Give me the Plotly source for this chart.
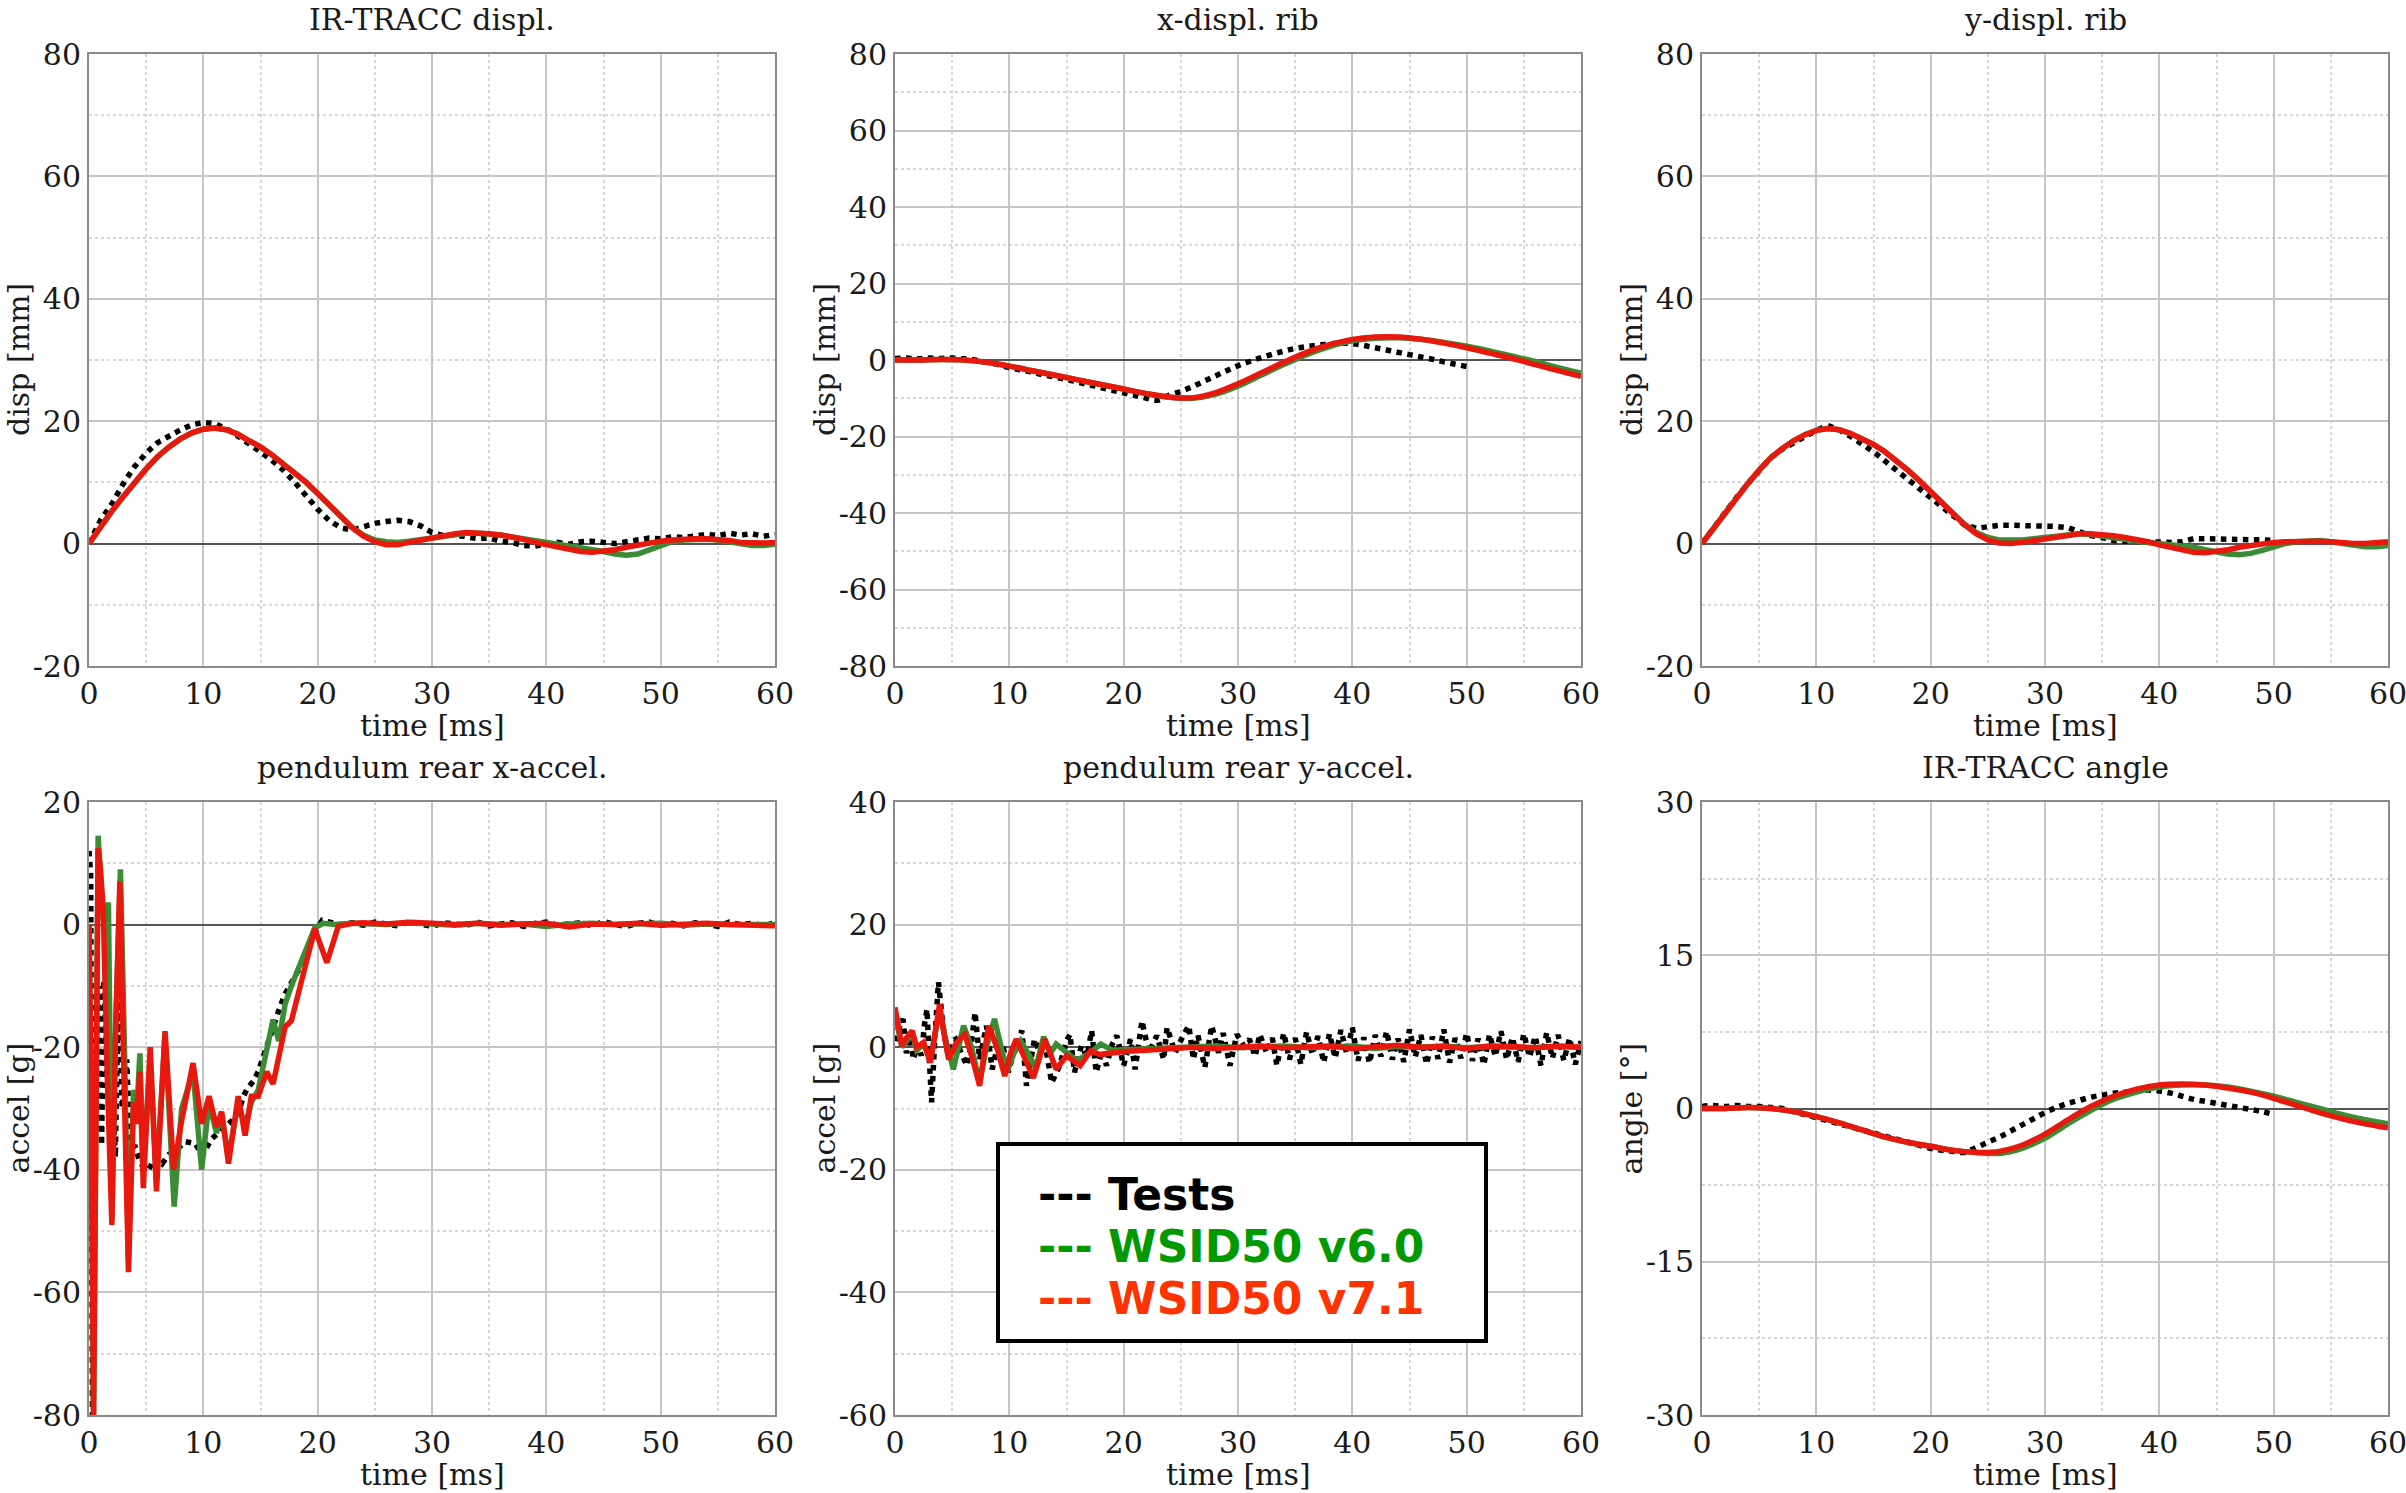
import plotly.graph_objects as go

# ---------------- DATA ----------------
# Panel 1: IR-TRACC displ. [mm]
P1_T = list(range(0, 61))
P1_TEST = [0, 3.8, 6.5, 9.8, 12.6, 14.8, 16.5, 17.6, 18.6, 19.4, 19.8, 19.6, 18.8, 17.6, 16.4, 15.0,
           13.6, 12.0, 10.0, 7.8, 5.6, 3.8, 2.6, 2.2, 2.8, 3.3, 3.6, 3.8, 3.6, 2.9, 1.8, 1.3, 1.4,
           1.0, 0.8, 0.9, 0.4, 0.2, -0.3, -0.4, 0.0, 0.2, -0.1, 0.3, 0.4, 0.1, 0.0, 0.3, 0.6, 0.9,
           0.8, 1.1, 1.0, 1.2, 1.5, 1.3, 1.7, 1.4, 1.6, 1.2, 1.5]
P1_V60 = [0, 2.8, 5.3, 7.7, 10.0, 12.2, 14.2, 15.8, 17.1, 18.1, 18.7, 18.9, 18.6, 17.9, 16.8, 15.8,
          14.5, 13.0, 11.5, 10.0, 8.2, 6.3, 4.4, 2.7, 1.4, 0.6, 0.3, 0.2, 0.4, 0.7, 1.0, 1.3, 1.5,
          1.7, 1.7, 1.6, 1.4, 1.1, 0.8, 0.5, 0.2, 0.0, -0.2, -0.5, -0.9, -1.3, -1.7, -1.9, -1.7,
          -1.1, -0.3, 0.3, 0.6, 0.7, 0.7, 0.6, 0.3, -0.1, -0.3, -0.3, -0.1]
P1_V71 = [0, 2.8, 5.3, 7.7, 10.0, 12.2, 14.2, 15.8, 17.1, 18.1, 18.7, 18.9, 18.6, 17.9, 16.8, 15.8,
          14.5, 13.0, 11.5, 10.0, 8.2, 6.3, 4.4, 2.6, 1.2, 0.3, -0.2, -0.2, 0.2, 0.6, 1.0, 1.3, 1.6,
          1.8, 1.8, 1.6, 1.4, 1.1, 0.7, 0.2, -0.2, -0.6, -1.0, -1.3, -1.4, -1.3, -1.0, -0.6, -0.2,
          0.2, 0.4, 0.6, 0.8, 0.8, 0.8, 0.7, 0.5, 0.2, 0.1, 0.1, 0.2]

# Panel 2: x-displ. rib [mm]
P2_TEST_T = list(range(0, 51))
P2_TEST = [0.4, 0.5, 0.3, 0.5, 0.4, 0.5, 0.3, 0.0, -0.6, -1.2, -2.0, -2.6, -3.2, -3.9, -4.5, -5.1,
           -5.8, -6.5, -7.2, -7.9, -8.6, -9.3, -10.0, -10.5, -9.2, -8.2, -7.0, -5.6, -4.2, -2.8,
           -1.5, -0.4, 0.6, 1.5, 2.3, 3.0, 3.5, 3.9, 4.2, 4.4, 4.3, 3.8, 3.2, 2.6, 2.0, 1.4, 0.8,
           0.2, -0.5, -1.1, -1.7]
P2_MODEL_T = list(range(0, 61, 2))
P2_V60 = [0, 0, 0.1, 0, -0.6, -1.6, -2.8, -4.0, -5.2, -6.4, -7.6, -8.8, -9.7, -10.0, -9.0, -6.8,
          -4.0, -1.2, 1.4, 3.5, 5.0, 5.7, 5.8, 5.4, 4.6, 3.6, 2.4, 1.0, -0.4, -2.0, -3.4]
P2_V71 = [0, 0, 0.1, 0, -0.6, -1.6, -2.8, -4.0, -5.2, -6.4, -7.6, -8.8, -9.7, -9.9, -8.6, -6.2,
          -3.4, -0.6, 2.0, 4.0, 5.4, 6.0, 6.0, 5.4, 4.4, 3.2, 1.8, 0.4, -1.2, -2.8, -4.3]

# Panel 3: y-displ. rib [mm]
P3_TEST_T = list(range(0, 51))
P3_TEST = [0, 2.6, 5.0, 7.5, 9.8, 12.0, 14.0, 15.4, 16.5, 17.6, 18.5, 19.3, 18.6, 17.5, 16.3, 15.0,
           13.5, 12.0, 10.5, 9.0, 7.5, 6.0, 4.5, 3.0, 2.5, 2.8, 3.0, 3.0, 3.0, 2.9, 2.9, 2.8, 2.6,
           2.0, 1.3, 1.0, 0.5, 0.4, 0.3, 0.3, 0.2, 0.2, 0.3, 0.8, 0.8, 0.8, 0.8, 0.8, 0.7, 0.6, 0.5]
P3_T = list(range(0, 61))
P3_V60 = [0, 2.5, 5.0, 7.5, 9.8, 12.0, 14.0, 15.5, 16.8, 17.8, 18.5, 18.8, 18.6, 18.0, 17.2, 16.2,
          15.0, 13.6, 12.0, 10.3, 8.5, 6.6, 4.7, 3.1, 1.8, 1.0, 0.6, 0.5, 0.6, 0.8, 1.0, 1.3, 1.5,
          1.6, 1.5, 1.3, 1.0, 0.7, 0.4, 0.2, 0.0, -0.1, -0.3, -0.6, -1.0, -1.4, -1.7, -1.8, -1.6,
          -1.1, -0.5, 0.0, 0.3, 0.5, 0.5, 0.3, 0.0, -0.3, -0.5, -0.5, -0.3]
P3_V71 = [0, 2.5, 5.0, 7.5, 9.8, 12.0, 14.0, 15.5, 16.8, 17.8, 18.5, 18.8, 18.6, 18.0, 17.2, 16.2,
          15.0, 13.6, 12.0, 10.3, 8.5, 6.6, 4.7, 3.0, 1.6, 0.6, 0.1, 0.0, 0.2, 0.5, 0.8, 1.1, 1.4,
          1.6, 1.6, 1.5, 1.3, 1.0, 0.7, 0.3, -0.2, -0.6, -1.1, -1.4, -1.5, -1.3, -1.0, -0.6, -0.3,
          0.0, 0.2, 0.3, 0.4, 0.5, 0.4, 0.3, 0.1, 0.0, 0.0, 0.1, 0.3]

# Panel 4: pendulum rear x-accel. [g]
P4_TEST_T = [0, 0.15, 0.3, 0.5, 0.8, 1.1, 1.3, 1.6, 1.9, 2.3, 2.6, 2.9, 3.3, 3.6, 4.0, 4.5, 5.2, 5.8,
             6.4, 7.0, 7.5, 8.0, 8.4, 9.3, 9.9, 10.7, 11.3, 11.9, 12.5, 13.1, 13.5, 13.9, 14.4, 14.8,
             15.4, 16.0, 16.6, 17.1, 17.7, 18.3, 18.9, 19.5, 20.0, 20.4, 21.2, 22,
             23, 24, 25, 26, 27, 28, 29, 30, 31, 32, 33, 34, 35, 36, 37, 38, 39, 40, 41, 42, 43, 44,
             45, 46, 47, 48, 49, 50, 51, 52, 53, 54, 55, 56, 57, 58, 59, 60]
P4_TEST = [12, 8, -80, -40, -10, -36, -9, -25, -20, -38, -7, -30, -22, -37, -36, -39, -40, -38,
           -39, -37.5, -37, -36, -35.4, -35.7, -37.7, -35, -34, -33, -32, -30.5, -28, -26.6, -25.5,
           -24, -21, -17.4, -14, -11.5, -9.5, -7.5, -5, -2.3, -0.5, 0.7, 0.4, 0.0,
           0.3, -0.1, 0.4, 0.2, -0.2, 0.5, 0.1, -0.3, 0.3, 0.2, -0.1, 0.4, -0.2, 0.1, 0.3, -0.3,
           0.2, 0.4, -0.1, 0.1, 0.3, -0.2, 0.5, 0.0, -0.3, 0.2, 0.4, -0.1, 0.2, -0.2, 0.3, 0.1,
           -0.3, 0.4, 0.0, 0.2, -0.2, 0.3]
P4_V60_T = [0, 0.2, 0.4, 0.6, 0.8, 1.0, 1.3, 1.7, 2.0, 2.35, 2.75, 3.1, 3.45, 3.9, 4.2, 4.45, 4.75,
            5.35, 5.9, 6.65, 7.45, 8.1, 9.1, 9.85, 10.5, 11.15, 11.6, 12.2, 13.05, 13.65, 14.2,
            14.8, 15.55, 16.1, 16.6, 17.15, 17.7, 18.6, 19.75, 20.5, 21.5, 23,
            24, 26, 28, 30, 32, 34, 36, 38, 40, 42, 44, 46, 48, 50, 52, 54, 56, 58, 60]
P4_V60 = [0, -30, -80, -15, 14.5, 8, 0, 3.6, -48, -15, 9, -20, -55, -27, -30, -21, -40,
          -22, -42, -18, -46, -30, -24, -40, -29, -34, -31, -38, -29, -33, -29,
          -27, -20, -15.5, -19, -13, -10, -6, -0.5, 0.2, 0.0, 0.2,
          0.2, 0.0, 0.3, 0.1, -0.1, 0.2, 0.0, 0.1, -0.3, 0.1, 0.2, 0.0, 0.1, 0.2, -0.1, 0.1, 0.0, -0.1, 0.0]
P4_V71_T = [0, 0.2, 0.4, 0.6, 0.8, 1.0, 1.25, 1.6, 2.0, 2.3, 2.7, 3.0, 3.45, 3.9, 4.15, 4.45, 4.75,
            5.35, 5.9, 6.65, 7.4, 8.1, 9.1, 9.85, 10.5, 11.15, 11.6, 12.2, 13.05, 13.65, 14.2,
            14.8, 15.55, 16.1, 17.15, 17.7, 18.6, 19.75, 20.8, 21.8, 23,
            24, 26, 28, 30, 32, 34, 36, 38, 40, 42, 44, 46, 48, 50, 52, 54, 56, 58, 60]
P4_V71 = [0, -30, -80, -20, 12.5, 9, 2.3, -25, -49, -20, 7, -20, -56.7, -29, -32.5, -24, -43,
          -20, -43.5, -17.4, -40, -32, -22.6, -32.5, -28, -33, -30.5, -39, -28, -34.4, -28,
          -28, -24, -26, -16.7, -15.7, -8.9, -0.7, -6.2, -0.3, 0.2,
          0.3, 0.1, 0.4, 0.2, 0.0, 0.2, -0.1, 0.1, 0.2, -0.4, 0.1, 0.0, 0.2, -0.1, 0.1, 0.2, 0.0, -0.1, -0.2]

# Panel 5: pendulum rear y-accel. [g]
P5_TEST_T = [0, 0.3, 0.7, 1.0, 1.3, 1.6, 2.0, 2.3, 2.6, 2.8, 3.0, 3.2, 3.5, 3.8, 4.2, 4.7, 5.0, 5.3,
             5.8, 6.3, 6.7, 7.0, 7.4, 8.0, 8.5, 9.0, 9.5, 9.9, 10.5, 11.1, 11.5, 12.2, 12.7, 13.1,
             13.7, 14.4, 15.0, 15.3, 15.7, 16.3, 16.8, 17.2, 17.6, 18.1, 18.5, 19.0, 19.4, 20.0,
             20.6, 21.0, 21.6, 22.2, 22.9, 23.5, 23.8, 24.5, 25.2, 25.7, 26.1, 26.5, 27.1, 27.7,
             28.3, 28.7, 29.3, 29.9, 30.5, 31.0, 31.5, 31.9, 32.5, 33.0, 33.4, 34.0,
             34.5, 35, 35.5, 36, 36.5, 37, 37.5, 38, 38.5, 39, 39.5, 40, 40.5, 41, 41.5, 42, 42.5,
             43, 43.5, 44, 44.5, 45, 45.5, 46, 46.5, 47, 47.5, 48, 48.5, 49, 49.5, 50, 50.5, 51,
             51.5, 52, 52.5, 53, 53.5, 54, 54.5, 55, 55.5, 56, 56.5, 57, 57.5, 58, 58.5, 59, 59.5, 60]
P5_TEST = [1, 3, 4.6, -1, 2.5, -2, 0.5, -1.4, 4, 6.2, -2, -9, 2, 10.6, 3.5, -2, 1, 1.3,
           -1, -3, 1, 5.7, -2, 3.5, -3.6, 0.5, -0.3, -4.1, 0, 2.7, -6.3, 1.3, -1, 0.8,
           -5.8, -3, 1, 2.1, -4.1, 0.2, -1.5, 2.7, -4.1, -0.5, -3, 0.5, 1.9, -3,
           1.3, -3.6, 4.3, -0.9, 1.9, -2, 3.2, -0.9, 1.9, 3.5, -2, 1.9, -3.3, 3.5,
           -0.9, 2.3, -3, 2.1, 0.2, 1.3, -1.5, 2.1, -0.9, 1.5, -3, 2.3,
           -2.0, 1.5, -2.8, 2.5, -1.2, 1.8, -2.5, 2.2, -1.8, 2.8, -1.0, 3.2, -2.2, 1.6, -2.6, 2.0,
           -1.5, 2.6, -2.0, 1.4, -2.4, 2.9, -1.6, 2.0, -2.8, 1.7, -1.9, 2.9, -2.5, 1.5, -1.8, 2.3,
           -2.2, 1.4, -2.9, 2.1, -1.5, 2.6, -2.0, 1.6, -2.4, 2.2, -1.6, 1.8, -3.0, 2.4, -1.8, 2.0,
           -2.2, 1.5, -2.8, 1.0]
P5_V60_T = [0, 0.3, 0.6, 1.0, 1.5, 1.9, 2.5, 3.1, 3.5, 3.9, 4.4, 5.1, 6.0, 6.7, 7.4, 8.0, 8.7, 9.3,
            9.8, 10.4, 11.0, 11.8, 12.3, 13.0, 13.6, 14.1, 15.0, 15.9, 17.0, 18.0, 19, 20, 22, 24,
            26, 28, 30, 32, 34, 36, 38, 40, 42, 44, 46, 48, 50, 52, 54, 56, 58, 60]
P5_V60 = [5.5, 2.5, 0, 1, 2.2, -0.5, 0.5, -2, 1.5, 6, 1.5, -3.6, 3.5, 0, -5.8, 0, 4.6, 0,
          -4, -1, 1, -1.5, -3.5, 1.7, -1, 0.5, -1, -2.2, -1, 0.5, -0.5, -0.4, -0.3, -0.2,
          0, 0.2, -0.1, 0.1, 0.2, -0.1, 0.0, 0.2, -0.2, 0.1, 0.0, 0.2, -0.1, 0.1, 0.0, -0.1, 0.1, 0.0]
P5_V71_T = [0, 0.3, 0.6, 1.0, 1.5, 1.9, 2.5, 3.1, 3.5, 3.9, 4.3, 4.7, 5.4, 6.1, 6.8, 7.4, 7.8, 8.2,
            8.9, 9.6, 10.1, 10.6, 11.4, 12.1, 12.6, 13.1, 14.1, 15.0, 16.2, 17.1, 17.9, 18.8, 20,
            22, 24, 26, 28, 30, 32, 34, 36, 38, 40, 42, 44, 46, 48, 50, 52, 54, 56, 58, 60]
P5_V71 = [6.5, 3, 0.2, 1.5, 2.7, 0, 0.8, -2.5, 2, 7, 2, -2, 0.8, 2.1, -2, -6.3, -1, 3.5,
          0, -4.7, -1, 1.3, -2, -5, -2, 1.3, -3.6, -1.4, -3, -0.6, -1.2, -0.9, -0.7,
          -0.5, -0.3, 0, -0.2, 0.1, 0.2, -0.1, 0.1, 0.2, -0.2, 0.1, 0.3, 0.0, 0.1, -0.2, 0.2,
          0.1, -0.1, 0.2, 0.0]

# Panel 6: IR-TRACC angle [deg]
P6_TEST_T = list(range(0, 51))
P6_TEST = [0.2, 0.3, 0.2, 0.3, 0.2, 0.2, 0.1, 0.0, -0.3, -0.6, -0.9, -1.2, -1.5, -1.8, -2.1, -2.4,
           -2.7, -3.0, -3.3, -3.6, -3.9, -4.1, -4.2, -4.3, -3.8, -3.3, -2.8, -2.2, -1.6, -1.0, -0.4,
           0.1, 0.5, 0.8, 1.1, 1.3, 1.5, 1.6, 1.7, 1.8, 1.7, 1.5, 1.2, 0.9, 0.7, 0.5, 0.3, 0.1,
           -0.1, -0.3, -0.6]
P6_MODEL_T = list(range(0, 61, 2))
P6_V60 = [0, 0, 0.1, 0, -0.3, -0.8, -1.4, -2.1, -2.8, -3.3, -3.7, -4.1, -4.3, -4.4, -3.9, -2.9,
          -1.5, -0.2, 0.9, 1.6, 2.1, 2.3, 2.3, 2.1, 1.7, 1.2, 0.6, 0.0, -0.6, -1.1, -1.5]
P6_V71 = [0, 0, 0.1, 0, -0.3, -0.8, -1.4, -2.1, -2.8, -3.3, -3.7, -4.1, -4.3, -4.2, -3.6, -2.5,
          -1.1, 0.2, 1.2, 1.9, 2.3, 2.4, 2.3, 2.0, 1.6, 1.0, 0.3, -0.4, -1.0, -1.5, -1.9]

TITLES = ["IR-TRACC displ.", "x-displ. rib", "y-displ. rib",
          "pendulum rear x-accel.", "pendulum rear y-accel.", "IR-TRACC angle"]
Y_LABELS = ["disp [mm]", "disp [mm]", "disp [mm]", "accel [g]", "accel [g]", "angle [°]"]
Y_RANGES = [(-20, 80), (-80, 80), (-20, 80), (-80, 20), (-60, 40), (-30, 30)]
Y_TICKS = [[-20, 0, 20, 40, 60, 80],
           [-80, -60, -40, -20, 0, 20, 40, 60, 80],
           [-20, 0, 20, 40, 60, 80],
           [-80, -60, -40, -20, 0, 20],
           [-60, -40, -20, 0, 20, 40],
           [-30, -15, 0, 15, 30]]
Y_TICK_TEXT = [["-20", "0", "20", "40", "60", "80"],
               ["-80", "-60", "-40", "-20", "0", "20", "40", "60", "80"],
               ["-20", "0", "20", "40", "60", "80"],
               ["-80", "-60", "-40", "-20", "0", "20"],
               ["-60", "-40", "-20", "0", "20", "40"],
               ["-30", "-15", "0", "15", "30"]]
X_TICKS = [0, 10, 20, 30, 40, 50, 60]
X_TICK_TEXT = ["0", "10", "20", "30", "40", "50", "60"]
X_LABEL = "time [ms]"
LEGEND_NAMES = ["Tests", "WSID50 v6.0", "WSID50 v7.1"]

# ---------------- STYLE ----------------
W, H = 2406, 1493
C_TEST = "#000000"
C_V60 = "#3a8d35"
C_V71 = "#e8180e"
LEG_COLORS = ["#000000", "#009900", "#ff3300"]
SERIF = "DejaVu Serif"
TXT = "#1a1a1a"

XDOM = [(89, 775), (895, 1581), (1702, 2388)]
YDOM = [(54, 666), (802, 1415)]

panels = [
    ((P1_T, P1_TEST), (P1_T, P1_V60), (P1_T, P1_V71)),
    ((P2_TEST_T, P2_TEST), (P2_MODEL_T, P2_V60), (P2_MODEL_T, P2_V71)),
    ((P3_TEST_T, P3_TEST), (P3_T, P3_V60), (P3_T, P3_V71)),
    ((P4_TEST_T, P4_TEST), (P4_V60_T, P4_V60), (P4_V71_T, P4_V71)),
    ((P5_TEST_T, P5_TEST), (P5_V60_T, P5_V60), (P5_V71_T, P5_V71)),
    ((P6_TEST_T, P6_TEST), (P6_MODEL_T, P6_V60), (P6_MODEL_T, P6_V71)),
]
smooth = [False, True, False, False, False, True]

fig = go.Figure()
layout = dict(width=W, height=H, autosize=False, margin=dict(l=0, r=0, t=0, b=0, autoexpand=False),
              paper_bgcolor="white", plot_bgcolor="white", showlegend=False,
              font=dict(family=SERIF, size=30, color=TXT))
annotations = []
TFONT = dict(family=SERIF, size=30, color=TXT)

for i in range(6):
    r, c = divmod(i, 3)
    n = "" if i == 0 else str(i + 1)
    xd = XDOM[c]
    yd = YDOM[r]
    (tt, ty), (gt, gy), (rt, ry) = panels[i]
    shape = "spline" if smooth[i] else "linear"
    fig.add_trace(go.Scatter(x=tt, y=ty, mode="lines", xaxis="x" + n, yaxis="y" + n,
                             line=dict(color=C_TEST, width=5.5, dash="dot", shape=shape)))
    fig.add_trace(go.Scatter(x=gt, y=gy, mode="lines", xaxis="x" + n, yaxis="y" + n,
                             line=dict(color=C_V60, width=5.5, shape=shape)))
    fig.add_trace(go.Scatter(x=rt, y=ry, mode="lines", xaxis="x" + n, yaxis="y" + n,
                             line=dict(color=C_V71, width=5.5, shape=shape)))
    layout["xaxis" + n] = dict(
        domain=[xd[0] / W, xd[1] / W], anchor="y" + n, range=[0, 60], automargin=False,
        tickmode="array", tickvals=X_TICKS, ticktext=X_TICK_TEXT, ticklabeloverflow="allow",
        showgrid=True, gridcolor="#c6c6c6", gridwidth=1.5,
        minor=dict(dtick=5, tick0=0, showgrid=True, gridcolor="#d6d6d6", griddash="dot", gridwidth=1.5),
        showline=True, mirror=True, linecolor="#8a8a8a", linewidth=2, zeroline=False, ticks="",
        tickfont=TFONT)
    y0, y1 = Y_RANGES[i]
    step = Y_TICKS[i][1] - Y_TICKS[i][0]
    layout["yaxis" + n] = dict(
        domain=[1 - yd[1] / H, 1 - yd[0] / H], anchor="x" + n, range=[y0, y1], automargin=False,
        tickmode="array", tickvals=Y_TICKS[i], ticktext=Y_TICK_TEXT[i], ticklabeloverflow="allow",
        showgrid=True, gridcolor="#c6c6c6", gridwidth=1.5,
        minor=dict(dtick=step / 2, tick0=0, showgrid=True, gridcolor="#d6d6d6",
                   griddash="dot", gridwidth=1.5),
        showline=True, mirror=True, linecolor="#8a8a8a", linewidth=2,
        zeroline=True, zerolinecolor="#555555", zerolinewidth=1.5, ticks="",
        tickfont=TFONT)
    # panel title
    annotations.append(dict(text=TITLES[i], xref="paper", yref="paper",
                            x=(xd[0] + xd[1]) / 2 / W, y=1 - (yd[0] - 34) / H,
                            xanchor="center", yanchor="middle", showarrow=False, font=TFONT))
    # x axis title
    annotations.append(dict(text=X_LABEL, xref="paper", yref="paper",
                            x=(xd[0] + xd[1]) / 2 / W, y=1 - (yd[1] + 59) / H,
                            xanchor="center", yanchor="middle", showarrow=False, font=TFONT))
    # y axis title
    annotations.append(dict(text=Y_LABELS[i], xref="paper", yref="paper", textangle=-90,
                            x=(xd[0] - 71) / W, y=1 - (yd[0] + yd[1]) / 2 / H,
                            xanchor="center", yanchor="middle", showarrow=False, font=TFONT))

# Legend box (drawn as a bordered rectangle with coloured text lines)
shapes = [dict(type="rect", xref="paper", yref="paper",
               x0=998 / W, x1=1486 / W, y0=1 - 1341 / H, y1=1 - 1144 / H,
               line=dict(color="black", width=4), fillcolor="white", layer="above")]
for k, name in enumerate(LEGEND_NAMES):
    annotations.append(dict(text="--- " + name, xref="paper", yref="paper",
                            x=1036 / W, y=1 - (1194 + 52 * k) / H, xanchor="left", yanchor="middle",
                            showarrow=False,
                            font=dict(family="DejaVu Sans", size=44, color=LEG_COLORS[k], weight="bold")))

layout["annotations"] = annotations
layout["shapes"] = shapes
fig.update_layout(**layout)
fig.write_html("out.html", config={"displayModeBar": False},
               post_script="document.body.style.margin='0px';document.body.style.overflow='hidden';")
